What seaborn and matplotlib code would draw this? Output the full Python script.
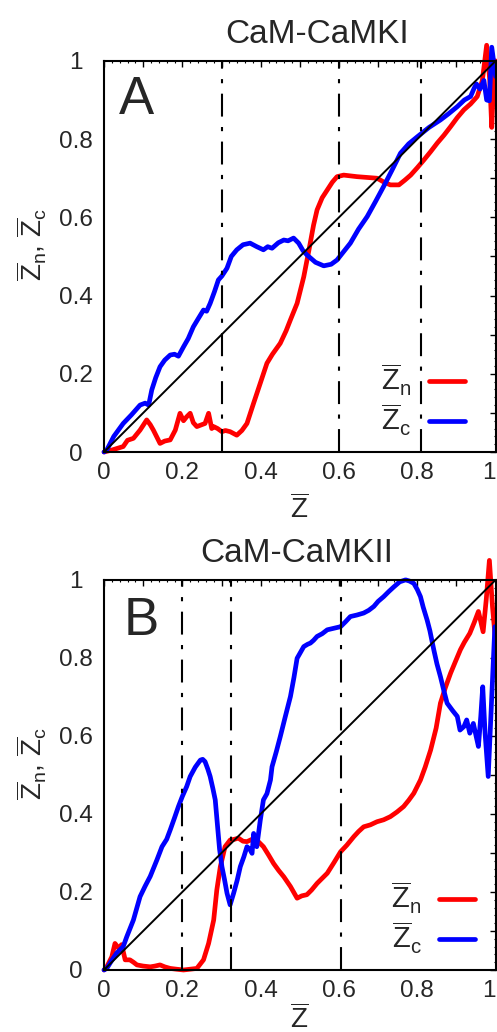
import numpy as np
import pandas as pd
import seaborn as sns
import matplotlib.pyplot as plt
from matplotlib.ticker import MultipleLocator

# panel A : CaM-CaMKI
a_zn_x = [0.0, 0.02, 0.049, 0.06, 0.075, 0.092, 0.109, 0.118, 0.126, 0.143, 0.155, 0.169, 0.182,
          0.194, 0.203, 0.211, 0.22, 0.228, 0.237, 0.25, 0.258, 0.267, 0.275, 0.28, 0.29, 0.301,
          0.31, 0.322, 0.339, 0.352, 0.365, 0.382, 0.399, 0.416, 0.43, 0.45, 0.465, 0.476, 0.493,
          0.51, 0.523, 0.535, 0.544, 0.557, 0.57, 0.583, 0.595, 0.612, 0.646, 0.697, 0.715, 0.731,
          0.753, 0.768, 0.783, 0.8, 0.817, 0.834, 0.851, 0.868, 0.885, 0.902, 0.919, 0.936, 0.953,
          0.966, 0.977, 0.985, 0.99, 0.997, 1.0]
a_zn_y = [0.0, 0.005, 0.014, 0.03, 0.035, 0.056, 0.082, 0.07, 0.056, 0.022, 0.028, 0.031, 0.056,
          0.099, 0.08, 0.09, 0.099, 0.075, 0.065, 0.07, 0.073, 0.099, 0.06, 0.065, 0.06, 0.052,
          0.055, 0.052, 0.043, 0.055, 0.073, 0.125, 0.176, 0.227, 0.25, 0.278, 0.31, 0.338, 0.38,
          0.448, 0.515, 0.58, 0.619, 0.65, 0.67, 0.69, 0.704, 0.708, 0.704, 0.7, 0.69, 0.683,
          0.683, 0.695, 0.708, 0.727, 0.747, 0.768, 0.79, 0.81, 0.832, 0.855, 0.875, 0.89, 0.909,
          0.95, 1.04, 0.95, 0.83, 1.0, 1.0]
a_zc_x = [0.0, 0.007, 0.025, 0.049, 0.07, 0.092, 0.105, 0.114, 0.122, 0.132, 0.143, 0.155, 0.169,
          0.18, 0.19, 0.203, 0.215, 0.228, 0.24, 0.254, 0.262, 0.271, 0.282, 0.292, 0.301, 0.314,
          0.325, 0.339, 0.355, 0.373, 0.39, 0.407, 0.418, 0.429, 0.445, 0.459, 0.47, 0.484, 0.497,
          0.508, 0.518, 0.54, 0.561, 0.58, 0.595, 0.61, 0.629, 0.65, 0.672, 0.693, 0.714, 0.735,
          0.757, 0.778, 0.8, 0.83, 0.859, 0.88, 0.902, 0.92, 0.936, 0.945, 0.951, 0.96, 0.97,
          0.977, 0.984, 0.99, 1.0]
a_zc_y = [0.0, 0.005, 0.04, 0.073, 0.095, 0.12, 0.125, 0.12, 0.159, 0.19, 0.218, 0.235, 0.248,
          0.25, 0.245, 0.269, 0.29, 0.32, 0.34, 0.363, 0.36, 0.38, 0.41, 0.44, 0.45, 0.47,
          0.5, 0.517, 0.53, 0.534, 0.525, 0.517, 0.525, 0.521, 0.535, 0.542, 0.54, 0.547, 0.534,
          0.515, 0.504, 0.485, 0.476, 0.48, 0.491, 0.51, 0.534, 0.57, 0.602, 0.64, 0.679, 0.72,
          0.764, 0.788, 0.806, 0.83, 0.849, 0.865, 0.883, 0.9, 0.909, 0.93, 0.941, 0.928, 0.95,
          0.9, 0.898, 1.035, 0.96]
a_vlines = [0.3, 0.6, 0.81]

# panel B : CaM-CaMKII
b_zn_x = [0.0, 0.007, 0.02, 0.028, 0.037, 0.045, 0.054, 0.066, 0.075, 0.084, 0.1, 0.118, 0.13,
          0.143, 0.155, 0.169, 0.185, 0.203, 0.22, 0.237, 0.254, 0.267, 0.28, 0.288, 0.297, 0.309,
          0.322, 0.333, 0.343, 0.355, 0.365, 0.378, 0.39, 0.407, 0.42, 0.433, 0.446, 0.459, 0.476,
          0.493, 0.505, 0.518, 0.53, 0.544, 0.557, 0.57, 0.587, 0.604, 0.62, 0.638, 0.65, 0.663,
          0.68, 0.697, 0.714, 0.731, 0.748, 0.765, 0.778, 0.791, 0.808, 0.82, 0.834, 0.848, 0.859,
          0.872, 0.885, 0.897, 0.91, 0.92, 0.934, 0.945, 0.956, 0.968, 0.976, 0.984, 0.992, 1.0]
b_zn_y = [0.0, 0.008, 0.034, 0.068, 0.056, 0.065, 0.026, 0.026, 0.02, 0.013, 0.01, 0.008, 0.01,
          0.013, 0.008, 0.004, 0.002, 0.0, 0.002, 0.004, 0.026, 0.068, 0.128, 0.205, 0.265, 0.316,
          0.333, 0.335, 0.338, 0.33, 0.329, 0.335, 0.333, 0.316, 0.295, 0.273, 0.255, 0.239, 0.214,
          0.184, 0.19, 0.193, 0.205, 0.222, 0.235, 0.248, 0.275, 0.303, 0.32, 0.342, 0.355, 0.367,
          0.372, 0.38, 0.385, 0.393, 0.405, 0.419, 0.435, 0.453, 0.487, 0.52, 0.564, 0.62, 0.684,
          0.725, 0.761, 0.79, 0.821, 0.84, 0.863, 0.89, 0.919, 0.867, 0.95, 1.05, 0.93, 0.84]
b_zc_x = [0.0, 0.007, 0.02, 0.032, 0.049, 0.058, 0.075, 0.092, 0.105, 0.118, 0.135, 0.148, 0.16,
          0.169, 0.18, 0.19, 0.2, 0.211, 0.22, 0.233, 0.246, 0.252, 0.258, 0.265, 0.271, 0.278,
          0.284, 0.288, 0.295, 0.301, 0.308, 0.314, 0.322, 0.331, 0.34, 0.348, 0.357, 0.365, 0.372,
          0.378, 0.382, 0.39, 0.399, 0.407, 0.416, 0.425, 0.429, 0.44, 0.45, 0.463, 0.476, 0.485,
          0.493, 0.51, 0.52, 0.527, 0.535, 0.544, 0.557, 0.57, 0.587, 0.604, 0.617, 0.629, 0.646,
          0.663, 0.676, 0.689, 0.7, 0.714, 0.727, 0.74, 0.755, 0.77, 0.78, 0.791, 0.8, 0.808,
          0.815, 0.825, 0.832, 0.842, 0.85, 0.859, 0.868, 0.876, 0.89, 0.902, 0.909, 0.919, 0.926,
          0.934, 0.943, 0.95, 0.956, 0.962, 0.967, 0.973, 0.981, 0.99, 0.998]
b_zc_y = [0.0, 0.004, 0.025, 0.043, 0.06, 0.085, 0.128, 0.188, 0.215, 0.24, 0.282, 0.316, 0.335,
          0.359, 0.39, 0.419, 0.445, 0.47, 0.496, 0.52, 0.538, 0.54, 0.534, 0.515, 0.496, 0.465,
          0.436, 0.39, 0.31, 0.265, 0.23, 0.197, 0.167, 0.197, 0.23, 0.265, 0.29, 0.316, 0.31,
          0.299, 0.35, 0.316, 0.384, 0.436, 0.452, 0.487, 0.521, 0.56, 0.598, 0.65, 0.701, 0.75,
          0.799, 0.829, 0.835, 0.838, 0.845, 0.855, 0.862, 0.872, 0.876, 0.88, 0.893, 0.906, 0.91,
          0.915, 0.922, 0.932, 0.945, 0.957, 0.97, 0.982, 0.995, 1.0, 0.997, 0.991, 0.975, 0.957,
          0.93, 0.897, 0.87, 0.821, 0.785, 0.752, 0.715, 0.684, 0.665, 0.65, 0.615, 0.624, 0.641,
          0.607, 0.632, 0.6, 0.573, 0.65, 0.726, 0.607, 0.496, 0.7, 0.88]
b_vlines = [0.2, 0.325, 0.605]

diag = [0, 1]
titles = ['CaM-CaMKI', 'CaM-CaMKII']
letters = ['A', 'B']
lbl_n = r'$\overline{\mathrm{Z}}_\mathrm{n}$'
lbl_c = r'$\overline{\mathrm{Z}}_\mathrm{c}$'
lbl_x = r'$\overline{\mathrm{Z}}$'
lbl_y = lbl_n + ', ' + lbl_c
tick_pos = [0, 0.1, 0.2, 0.3, 0.4, 0.5, 0.6, 0.7, 0.8, 0.9, 1.0]
tick_txt = ['0', '', '0.2', '', '0.4', '', '0.6', '', '0.8', '', '1']

sns.set_style('white')
plt.rcParams['font.family'] = ['Liberation Sans', 'DejaVu Sans']
plt.rcParams['mathtext.fontset'] = 'custom'
plt.rcParams['mathtext.rm'] = 'Liberation Sans'
plt.rcParams['mathtext.it'] = 'Liberation Sans:italic'
plt.rcParams['mathtext.bf'] = 'Liberation Sans:bold'

fig = plt.figure(figsize=(4.97, 10.32), dpi=100)
axA = fig.add_axes([0.2093, 0.562, 0.788, 0.379])
axB = fig.add_axes([0.2093, 0.0601, 0.788, 0.378])

panels = [
    (axA, a_zn_x, a_zn_y, a_zc_x, a_zc_y, a_vlines, 0.545, (0.922, 0.035), (0.038, 0.864), -0.11),
    (axB, b_zn_x, b_zn_y, b_zc_x, b_zc_y, b_vlines, 0.493, (0.948, 0.035), (0.049, 0.859), -0.088),
]

for i, (ax, nx, ny, cx, cy, vl, tx, legpos, letpos, xlab_y) in enumerate(panels):
    df = pd.DataFrame({
        'x': nx + cx,
        'y': ny + cy,
        'serie': [lbl_n] * len(nx) + [lbl_c] * len(cx),
    })
    sns.lineplot(data=df, x='x', y='y', hue='serie', palette={lbl_n: '#ff0000', lbl_c: '#0000ff'},
                 estimator=None, sort=False, lw=3.4, clip_on=False, ax=ax)
    ax.plot(diag, diag, color='black', lw=1.4)
    for v in vl:
        ax.axvline(v, color='black', lw=1.5, ls=(0, (11, 5, 2, 5)))

    ax.set_xlim(0, 1)
    ax.set_ylim(0, 1)
    ax.set_xticks(tick_pos)
    ax.set_xticklabels(tick_txt)
    ax.set_yticks(tick_pos)
    ax.set_yticklabels(tick_txt)
    ax.xaxis.set_minor_locator(MultipleLocator(0.02))
    ax.yaxis.set_minor_locator(MultipleLocator(0.02))
    ax.tick_params(which='major', direction='in', length=4.5, width=1, top=True, right=True,
                   labelsize=17.5, color='black')
    ax.tick_params(which='minor', direction='in', length=1.5, width=0.8, top=True, right=True,
                   color='black')
    ax.tick_params(axis='y', which='major', pad=20)
    ax.tick_params(axis='x', which='major', pad=7)
    for t in ax.get_yticklabels():
        t.set_horizontalalignment('center')
    # le "1" du bord droit reste dans l'image
    ax.get_xticklabels()[-1].set_horizontalalignment('right')
    for s in ax.spines.values():
        s.set_linewidth(1.5)
        s.set_color('black')

    ax.set_xlabel(lbl_x, fontsize=20)
    ax.xaxis.set_label_coords(0.5, xlab_y)
    ax.set_ylabel(lbl_y, fontsize=20)
    ax.yaxis.set_label_coords(-0.14, 0.53)
    # titre posé un peu au-dessus du cadre
    ax.text(tx, 1.045, titles[i], transform=ax.transAxes, fontsize=24, ha='center', va='baseline')
    ax.text(letpos[0], letpos[1], letters[i], transform=ax.transAxes, fontsize=38,
            ha='left', va='baseline')

    h, l = ax.get_legend_handles_labels()
    ax.legend(h, l, loc='lower right', bbox_to_anchor=legpos, frameon=False, markerfirst=False,
              handlelength=1.25, handletextpad=0.6, labelspacing=0.15, borderpad=0,
              borderaxespad=0, fontsize=21)

fig.savefig('out.png', dpi=100)
